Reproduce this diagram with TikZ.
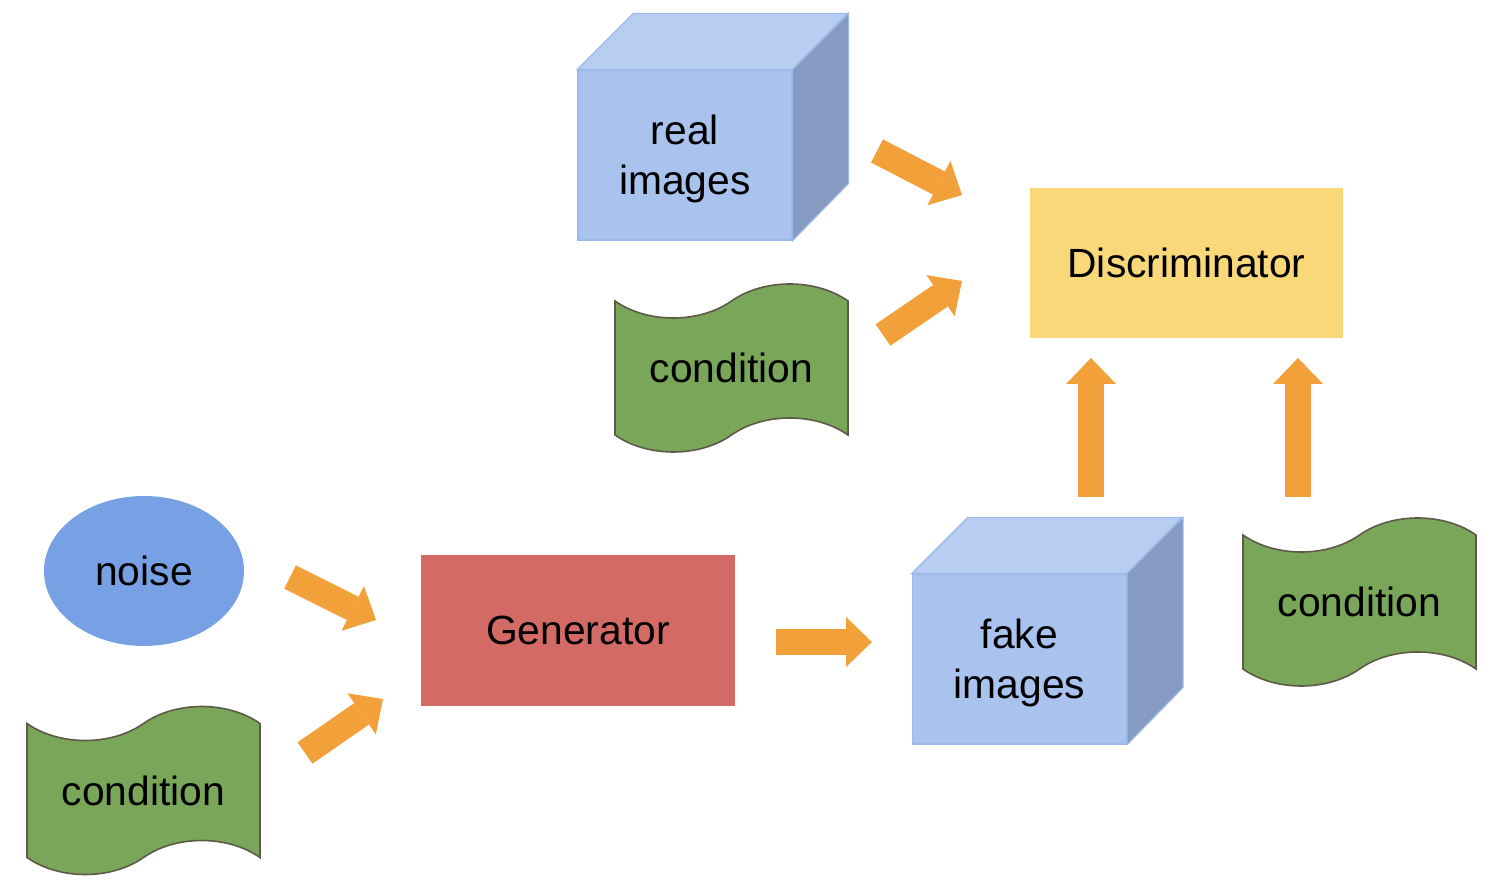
\documentclass[tikz,border=0pt]{standalone}
\usepackage{fontspec}
\setmainfont{Liberation Sans}
\usetikzlibrary{arrows.meta,shapes.geometric,shapes.symbols}

\definecolor{cubefront}{HTML}{A9C3EE}
\definecolor{cubetop}{HTML}{B8CEF0}
\definecolor{cubeside}{HTML}{869AC2}
\definecolor{cubeline}{HTML}{9DB9EA}
\definecolor{discyellow}{HTML}{F8D878}
\definecolor{genred}{HTML}{D46A66}
\definecolor{noiseblue}{HTML}{78A0E4}
\definecolor{condgreen}{HTML}{7AA65A}
\definecolor{condline}{HTML}{5E5A48}
\definecolor{arroworange}{HTML}{F2A03A}

\begin{document}
\begin{tikzpicture}[x=0.5pt,y=-0.5pt,
  txt/.style={font=\fontsize{20.4}{25}\selectfont, align=center, inner sep=0pt},
  flat/.style={txt, rectangle, minimum width=156.5pt, minimum height=75pt},
  face/.style={draw=cubeline, line width=0.6pt},
  cubebox/.style={face, fill=cubefront, minimum width=107pt, minimum height=85pt, inner sep=0pt},
  cubetext/.style={label={[txt, yshift=-2pt]center:#1}},
  cond/.style={txt, tape, draw=condline, line width=0.8pt, fill=condgreen, minimum width=116.5pt, minimum height=84pt, tape bend height=17pt},
  fatarrow/.style={draw=arroworange, line width=13pt, -{Triangle[length=13pt, width=25pt, line width=0pt]}}]
\useasboundingbox (0,0) rectangle (1502,886);

\node[flat, fill=discyellow] (disc) at (1186.5,263) {Discriminator};
\node[flat, fill=genred, minimum width=157pt, minimum height=75.5pt] (gen) at (578,630.5) {Generator};
\node[txt, ellipse, fill=noiseblue, minimum width=100pt, minimum height=75pt] (noise) at (144,571) {noise};

\node[cubebox, cubetext={real\\images}] (real) at (685,155) {};
\filldraw[face, fill=cubetop] (real.north west) -- ++(56,-56) -- ++(214,0) -- (real.north east) -- cycle;
\filldraw[face, fill=cubeside] (real.north east) -- ++(56,-56) -- ++(0,170) -- (real.south east) -- cycle;

\node[cubebox, cubetext={fake\\images}] (fake) at (1019.5,659) {};
\filldraw[face, fill=cubetop] (fake.north west) -- ++(56,-56) -- ++(214,0) -- (fake.north east) -- cycle;
\filldraw[face, fill=cubeside] (fake.north east) -- ++(56,-56) -- ++(0,170) -- (fake.south east) -- cycle;

\node[cond] (condreal) at (731.5,368) {condition};
\node[cond] (condgen) at (143.5,790.5) {condition};
\node[cond] (condfake) at (1359.5,602) {condition};

\coordinate (t1) at (290,577);   \coordinate (h1) at (376,620);
\coordinate (t2) at (305,753);   \coordinate (h2) at (383,699);
\coordinate (t3) at (877,151);   \coordinate (h3) at (962,195);
\coordinate (t4) at (883,335);   \coordinate (h4) at (962,281);
\coordinate (t5) at (776,642);   \coordinate (h5) at (872,642);
\coordinate (t6) at (1091,497);  \coordinate (h6) at (1091,358);
\coordinate (t7) at (1298,497);  \coordinate (h7) at (1298,358);

\foreach \i in {1,...,7}
  \draw[fatarrow] (t\i) -- (h\i);
\end{tikzpicture}
\end{document}
